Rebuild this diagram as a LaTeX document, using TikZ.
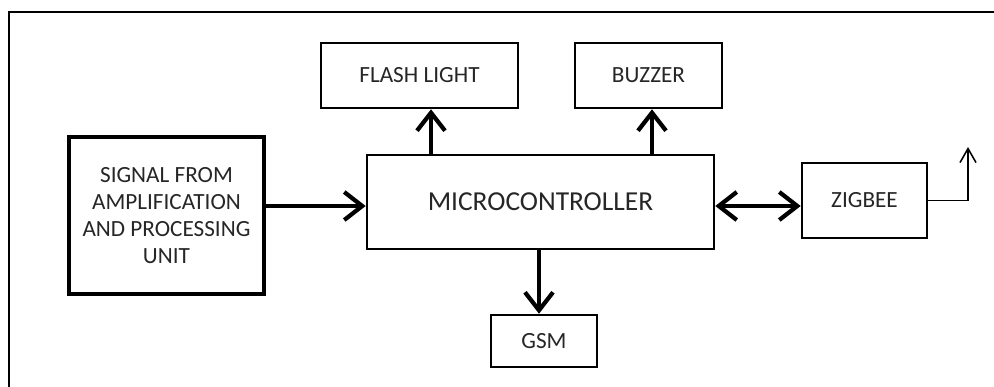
\documentclass[tikz,border=0pt]{standalone}
\usepackage{fontspec}
\setmainfont{Carlito}
\usetikzlibrary{arrows.meta}

\begin{document}
\begin{tikzpicture}[x=0.025cm, y=-0.025cm,
    block/.style={draw, line width=1.8pt, text=black!85, font=\fontsize{16.5}{19}\selectfont, align=center, inner sep=0pt},
    flow/.style={line width=3pt, -{Straight Barb[length=4.5mm, width=7mm]}},
    both/.style={line width=3pt, {Straight Barb[length=4.5mm, width=7mm]}-{Straight Barb[length=4.5mm, width=7mm]}}]
    \useasboundingbox (0,0) rectangle (994,387);
    % frame
    \draw[line width=2pt] (9,387) -- (9,12) -- (994,12);

    \node [block, line width=2.3pt, minimum width=4.875cm, minimum height=3.925cm] (signal) at (166.5,215.5) {SIGNAL FROM\\AMPLIFICATION\\AND PROCESSING\\UNIT};
    \node [block, font=\fontsize{19.5}{23}\selectfont, minimum width=8.675cm, minimum height=2.35cm] (micro) at (540.5,202) {MICROCONTROLLER};
    \node [block, minimum width=4.925cm, minimum height=1.625cm] (flash) at (419.5,75.5) {FLASH LIGHT};
    \node [block, minimum width=3.675cm, minimum height=1.625cm] (buzzer) at (648.5,75.5) {BUZZER};
    \node [block, minimum width=2.65cm, minimum height=1.3cm] (gsm) at (544,341) {GSM};
    \node [block, minimum width=3.125cm, minimum height=1.875cm] (zigbee) at (864.5,200.5) {ZIGBEE};

    \coordinate (mid) at (0,206);
    \coordinate (fl) at (431,0);
    \coordinate (bz) at (652,0);
    \coordinate (gs) at (539,0);
    \coordinate (ant) at (968,147);

    \draw[flow] (signal.east |- mid) -- (micro.west |- mid);
    \draw[both] (micro.east |- mid) -- (zigbee.west |- mid);
    \draw[flow] (micro.north -| fl) -- (flash.south -| fl);
    \draw[flow] (micro.north -| bz) -- (buzzer.south -| bz);
    \draw[flow] (micro.south -| gs) -- (gsm.north -| gs);
    \draw[line width=1.1pt, -{Straight Barb[length=3.5mm, width=4mm]}] (zigbee.east) -| (ant);
\end{tikzpicture}
\end{document}
